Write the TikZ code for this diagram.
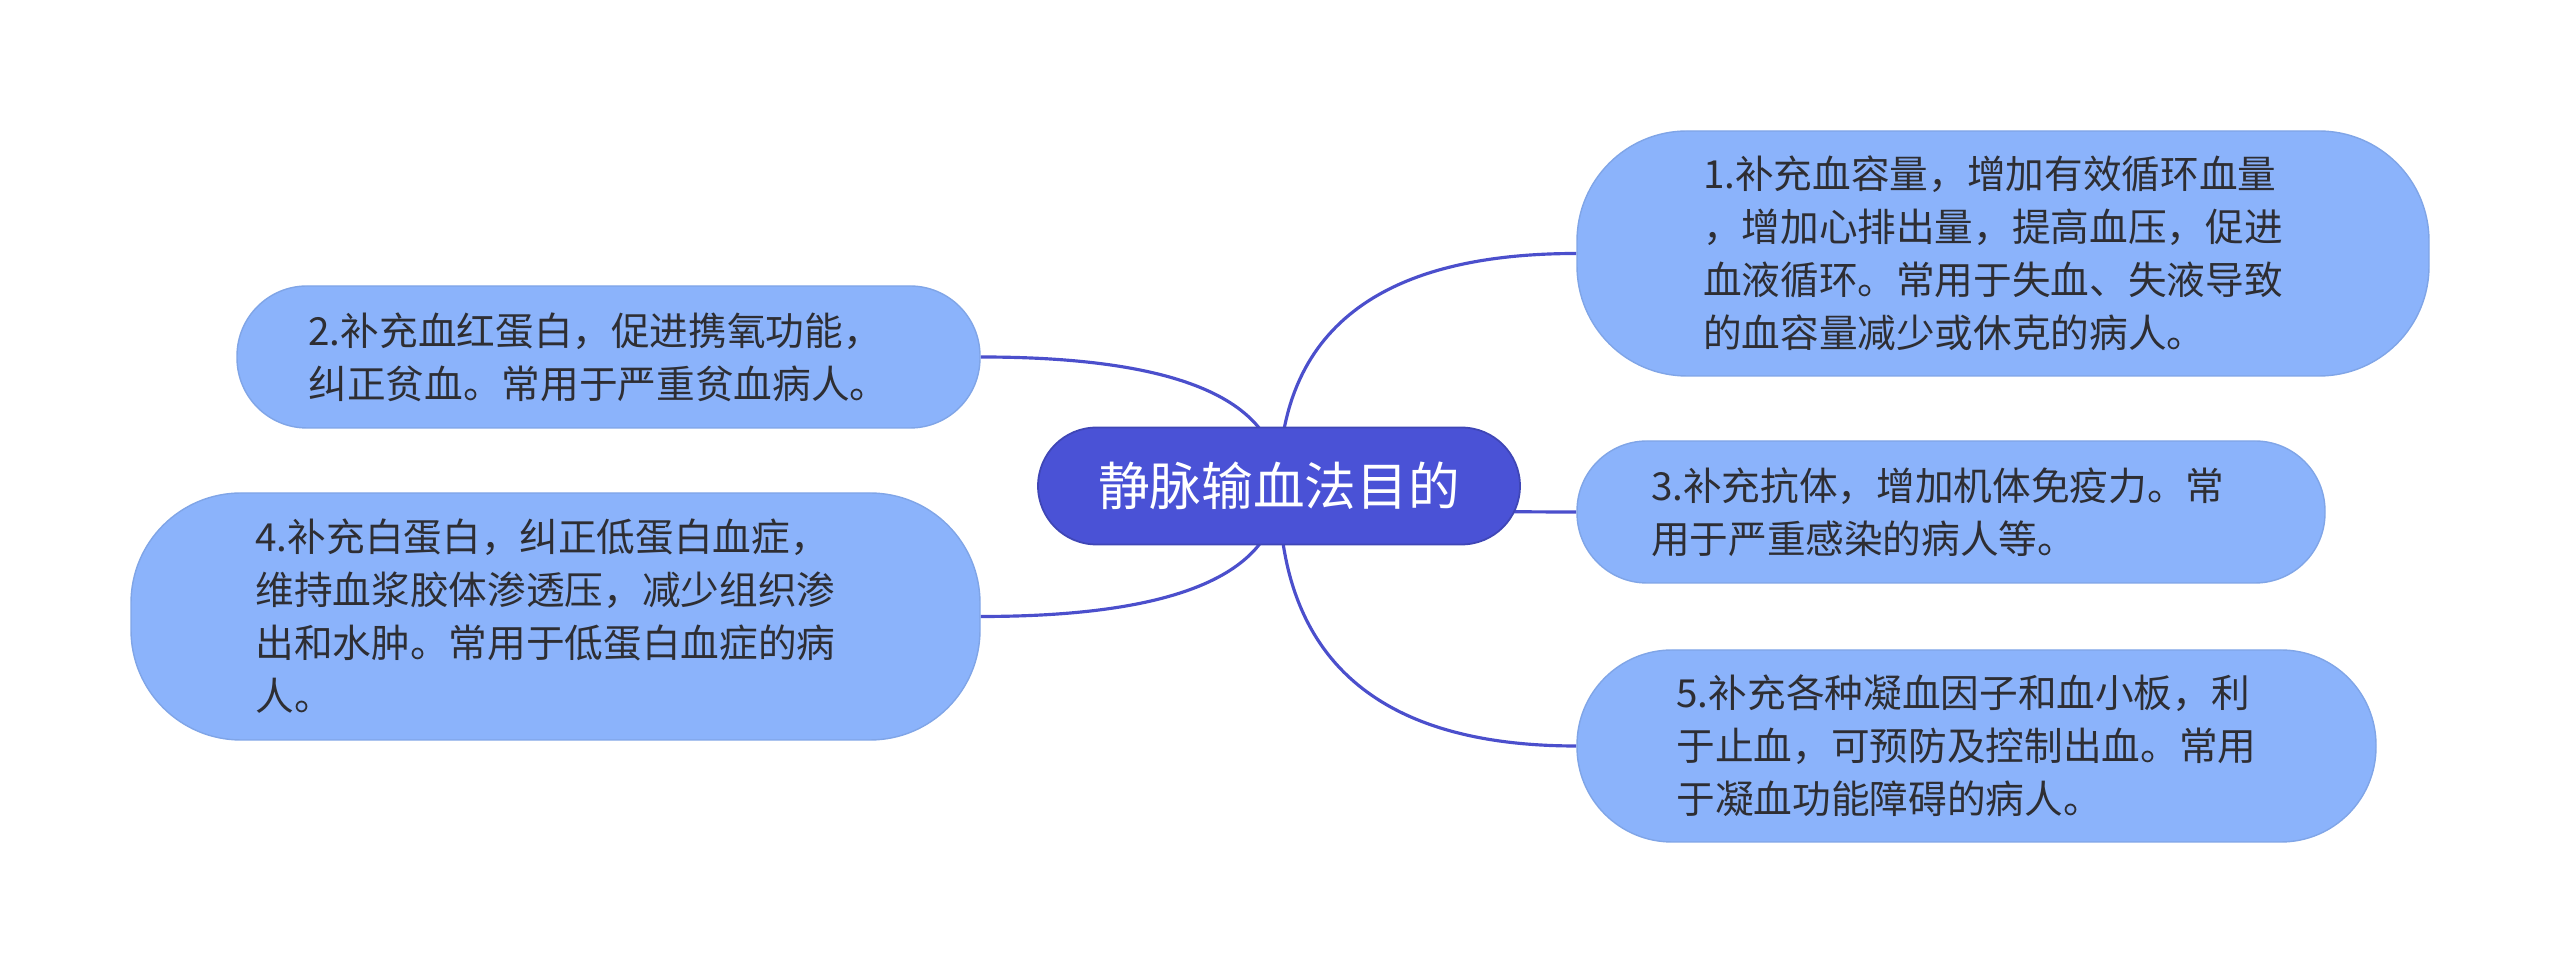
\documentclass[tikz,border=0pt]{standalone}
\usepackage{fontspec}
\setmainfont{Noto Sans CJK SC}
\usetikzlibrary{backgrounds, calc}
\definecolor{rootblue}{HTML}{4A52D6}
\definecolor{leafblue}{HTML}{8BB3FB}
\definecolor{edgeblue}{HTML}{4B4FCC}
\definecolor{txtgray}{HTML}{2E2E33}
% quadratic curve from the root to a leaf, bent at the corner
\newcommand{\branchto}[2]{\draw[branch] (root.center) .. controls ($(root.center)!2/3!(root.center |- #1.#2)$) and ($(#1.#2)!2/3!(root.center |- #1.#2)$) .. (#1.#2);}

\begin{document}
\begin{tikzpicture}[topic/.style={fill=rootblue, draw=rootblue!85!black, line width=0.5pt, rounded corners=0.585cm, minimum width=4.82cm, minimum height=1.17cm, text=white, font=\fontsize{14.7}{18}\selectfont}, leaf/.style={fill=leafblue, draw=leafblue!92!black, line width=0.4pt, text=txtgray, align=left, text width=6cm, inner sep=0pt, font=\fontsize{11}{15.1}\selectfont}, branch/.style={draw=edgeblue, line width=0.9pt}]
\useasboundingbox (0,0) rectangle (25.6,9.73);
\node[topic] (root) at (12.79,4.87) {静脉输血法目的};
\node[leaf, minimum width=8.52cm, minimum height=2.45cm, rounded corners=1.1cm] (n1) at (20.03,7.195) {1.补充血容量，增加有效循环血量\\，增加心排出量，提高血压，促进\\血液循环。常用于失血、失液导致\\的血容量减少或休克的病人。};
\node[leaf, minimum width=7.43cm, minimum height=1.42cm, rounded corners=0.7cm] (n2) at (6.085,6.16) {2.补充血红蛋白，促进携氧功能，\\纠正贫血。常用于严重贫血病人。};
\node[leaf, minimum width=7.48cm, minimum height=1.42cm, rounded corners=0.7cm] (n3) at (19.51,4.61) {3.补充抗体，增加机体免疫力。常\\用于严重感染的病人等。};
\node[leaf, minimum width=8.49cm, minimum height=2.47cm, rounded corners=1.1cm] (n4) at (5.555,3.565) {4.补充白蛋白，纠正低蛋白血症，\\维持血浆胶体渗透压，减少组织渗\\出和水肿。常用于低蛋白血症的病\\人。};
\node[leaf, minimum width=7.99cm, minimum height=1.92cm, rounded corners=0.95cm] (n5) at (19.765,2.27) {5.补充各种凝血因子和血小板，利\\于止血，可预防及控制出血。常用\\于凝血功能障碍的病人。};
\begin{pgfonlayer}{background}
\branchto{n1}{west}\branchto{n3}{west}\branchto{n5}{west}
\branchto{n2}{east}\branchto{n4}{east}
\end{pgfonlayer}
\end{tikzpicture}
\end{document}
